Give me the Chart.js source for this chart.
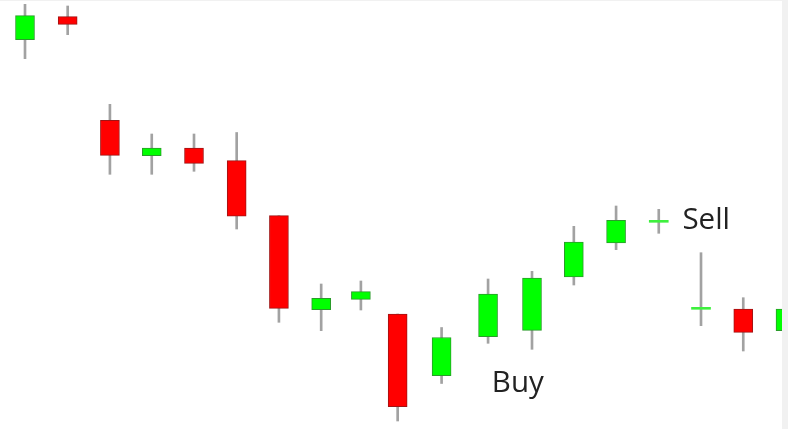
<!DOCTYPE html>
<html>
<head>
<meta charset="utf-8">
<script src="https://cdn.jsdelivr.net/npm/chart.js@4.4.1/dist/chart.umd.min.js"></script>
<style>
  html, body { margin: 0; padding: 0; background: #f1f1f1; width: 788px; height: 429px; overflow: hidden; }
  #wrap { position: absolute; left: 0; top: 1px; width: 782px; height: 428px; background: #ffffff; }
</style>
</head>
<body>
<div id="wrap"><canvas id="c"></canvas></div>
<script>
// Session positions (irregular spacing as in the picture)
const times  = [0, 1.01, 2.01, 3, 4, 5.01, 6.01, 7.01, 7.95, 8.82, 9.86, 10.96, 12, 12.99, 13.99, 15, 16, 17, 18];
const opens  = [138.93, 141.23, 130.87, 127.33, 128.10, 126.83, 121.33, 111.93, 112.97, 111.50, 105.33, 109.23, 109.87, 115.20, 118.60, 120.67, 111.97, 112.00, 109.83];
const highs  = [142.47, 142.30, 132.47, 129.50, 129.50, 129.65, 121.33, 114.50, 114.80, 111.50, 110.15, 115.00, 115.77, 120.27, 122.30, 121.97, 117.63, 113.13, 112.90];
const lows   = [137.03, 139.43, 125.47, 125.47, 125.77, 120.00, 110.67, 109.83, 111.90, 100.80, 104.55, 108.57, 107.97, 114.40, 117.93, 119.57, 110.33, 107.80, 108.40];
const closes = [141.33, 140.47, 127.37, 128.10, 126.57, 121.28, 112.07, 113.07, 113.73, 102.23, 109.15, 113.50, 115.10, 118.70, 120.87, 120.67, 111.97, 109.67, 112.00];

// Text annotations
const noteTexts = ['Buy', 'Sell'];
const noteX     = [11.05, 15.56];
const noteY     = [103.75, 120.05];

const UP_FILL = '#00ff00', UP_EDGE = '#2b9b2b';
const DN_FILL = '#ff0000', DN_EDGE = '#a01414';
const DOJI = '#3ef03e';
const WICK = '#a2a2a2';

const isDoji = i => opens[i] === closes[i];

const bodyData = times.map((t, i) => ({ x: t, y: [opens[i], closes[i]] }));
const wickData = times.map((t, i) => ({ x: t, y: [lows[i], highs[i]] }));

const notesPlugin = {
  id: 'notes',
  afterDatasetsDraw(chart) {
    const { ctx, scales } = chart;
    ctx.save();
    ctx.font = '29.5px "Open Sans"';
    ctx.fillStyle = '#222222';
    ctx.textBaseline = 'alphabetic';
    ctx.textAlign = 'left';
    noteTexts.forEach((t, i) => {
      ctx.fillText(t, scales.x.getPixelForValue(noteX[i]), scales.y.getPixelForValue(noteY[i]));
    });
    ctx.restore();
  }
};

new Chart(document.getElementById('c'), {
  type: 'bar',
  data: {
    datasets: [
      {
        label: 'body',
        data: bodyData,
        order: 0,
        grouped: false,
        barThickness: 19,
        minBarLength: 2,
        borderSkipped: false,
        backgroundColor: ctx => isDoji(ctx.dataIndex) ? DOJI : (closes[ctx.dataIndex] > opens[ctx.dataIndex] ? UP_FILL : DN_FILL),
        borderColor: ctx => closes[ctx.dataIndex] > opens[ctx.dataIndex] ? UP_EDGE : DN_EDGE,
        borderWidth: ctx => isDoji(ctx.dataIndex) ? 0 : 1
      },
      {
        label: 'wick',
        data: wickData,
        order: 1,
        grouped: false,
        barThickness: 2,
        borderSkipped: false,
        backgroundColor: WICK,
        borderWidth: 0
      }
    ]
  },
  options: {
    responsive: true,
    maintainAspectRatio: false,
    animation: false,
    layout: { padding: 0 },
    plugins: { legend: { display: false }, tooltip: { enabled: false } },
    scales: {
      x: { type: 'linear', display: false, offset: false, min: -0.5917, max: 17.917, grid: { display: false } },
      y: { type: 'linear', display: false, beginAtZero: false, min: 100, max: 142.8, grid: { display: false } }
    }
  },
  plugins: [notesPlugin]
});
</script>
</body>
</html>
